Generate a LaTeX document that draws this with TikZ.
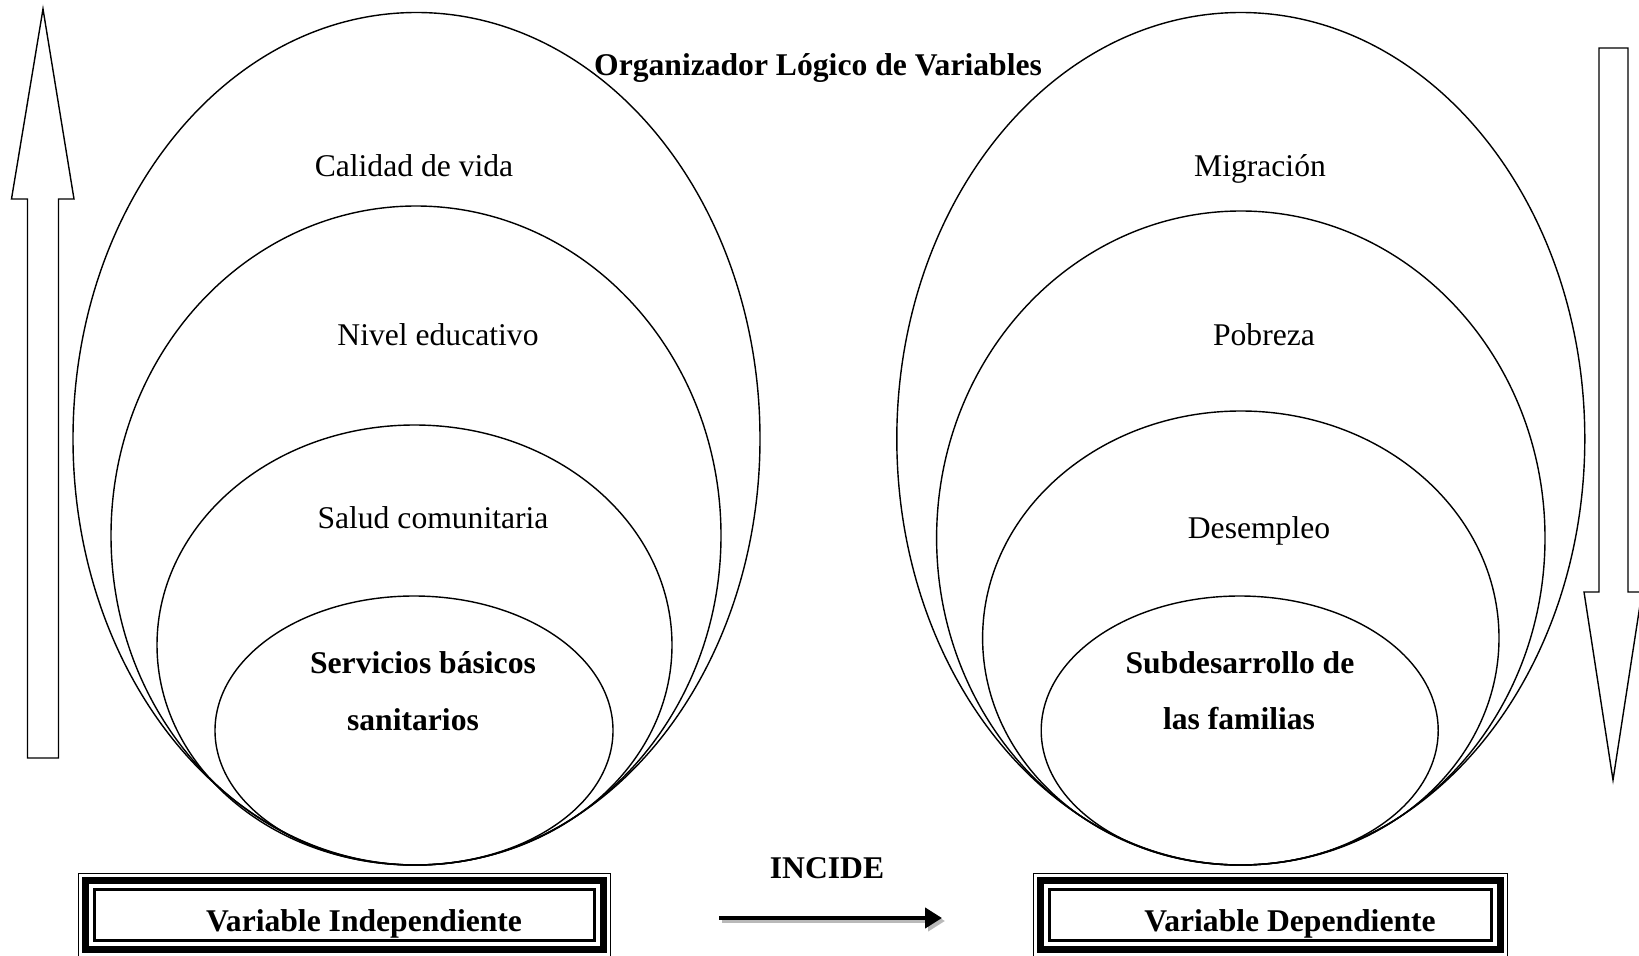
\documentclass[tikz,border=0pt]{standalone}
\usepackage{fontspec}
\setmainfont{Liberation Serif}
\usetikzlibrary{arrows.meta, shapes.geometric}

\begin{document}
\begin{tikzpicture}[x=0.02cm, y=-0.02cm,
    ovl/.style 2 args={ellipse, draw, line width=0.8pt, inner sep=0pt,
        minimum width=#1*0.02cm, minimum height=#2*0.02cm},
    txt/.style={anchor=base, inner sep=0pt, font=\fontsize{18}{22}\selectfont},
    btxt/.style={anchor=base, inner sep=0pt, font=\fontsize{18}{22}\selectfont\bfseries},
    blk/.style={draw, line width=0.8pt, line join=miter},
    vbox/.style 2 args={draw, line width=1.6pt, inner sep=0pt,
        minimum width=#1*0.02cm, minimum height=#2*0.02cm},
    thk/.style={line width=4pt},
    thn/.style={line width=0.8pt},
     Arr/.style={line width=2.5pt, -{Triangle[length=0.34cm, width=0.4cm]}},
                        ]
    \useasboundingbox (0,0) rectangle (1639,956);

    % independent side
    \node[ovl={687}{852.5}] (ind1) at (416.5,438.75) {};
    \node[ovl={610}{659}]   (ind2) at (416,535.5) {};
    \node[ovl={515}{440}]   (ind3) at (414.5,645) {};
    \node[ovl={398}{269}]   (ind4) at (414,730.5) {};
    % dependent side
    \node[ovl={688}{852.5}] (dep1) at (1240.8,438.75) {};
    \node[ovl={608.4}{654}] (dep2) at (1240.8,538) {};
    \node[ovl={516.4}{454}] (dep3) at (1240.8,638) {};
    \node[ovl={397}{269}]   (dep4) at (1239.7,730.5) {};

    \node[btxt] (title) at (818,76) {Organizador Lógico de Variables};

    \node[txt]  (calidad)  at (414,177) {Calidad de vida};
    \node[txt]  (nivel)    at (438,345) {Nivel educativo};
    \node[txt]  (salud)    at (433,528) {Salud comunitaria};
    \node[btxt] (serv)     at (423,673) {Servicios básicos};
    \node[btxt] (sanit)    at (413,730) {sanitarios};

    \node[txt]  (migr)     at (1260,177) {Migración};
    \node[txt]  (pobr)     at (1264,345) {Pobreza};
    \node[txt]  (desem)    at (1259,538) {Desempleo};
    \node[btxt] (subd)     at (1240,673) {Subdesarrollo de};
    \node[btxt] (famil)    at (1239,729) {las familias};

    % block arrows
    \draw[blk] (43,9) -- (74,199) -- (58.5,199) -- (58.5,758) -- (27.5,758)
        -- (27.5,199) -- (11.5,199) -- cycle;
    \draw[blk] (1613,780) -- (1584,592) -- (1599,592) -- (1599,48) -- (1628,48)
        -- (1628,592) -- (1642,592) -- cycle;

    % variable boxes
    \node[vbox={500}{51}] (vind) at (344.5,915) {};
    \draw[thk] ([shift={(-8,-8)}]vind.north west) rectangle ([shift={(8,8)}]vind.south east);
    \draw[thn] ([shift={(-14.5,-14.5)}]vind.north west) rectangle ([shift={(14.5,14.5)}]vind.south east);
    \node[btxt] (vindt) at (364,931) {Variable Independiente};

    \node[vbox={442}{51}] (vdep) at (1270.5,915) {};
    \draw[thk] ([shift={(-8,-8)}]vdep.north west) rectangle ([shift={(8,8)}]vdep.south east);
    \draw[thn] ([shift={(-14.5,-14.5)}]vdep.north west) rectangle ([shift={(14.5,14.5)}]vdep.south east);
    \node[btxt] (vdept) at (1290,931) {Variable Dependiente};

    \node[btxt] (incide) at (827,878) {INCIDE};
    \coordinate (incA) at (719,918);
    \coordinate (incB) at (942,918);
    \draw[Arr, gray!55] ([shift={(3,3)}]incA) -- ([shift={(3,3)}]incB);
    \draw[Arr] (incA) -- (incB);

\end{tikzpicture}
\end{document}
